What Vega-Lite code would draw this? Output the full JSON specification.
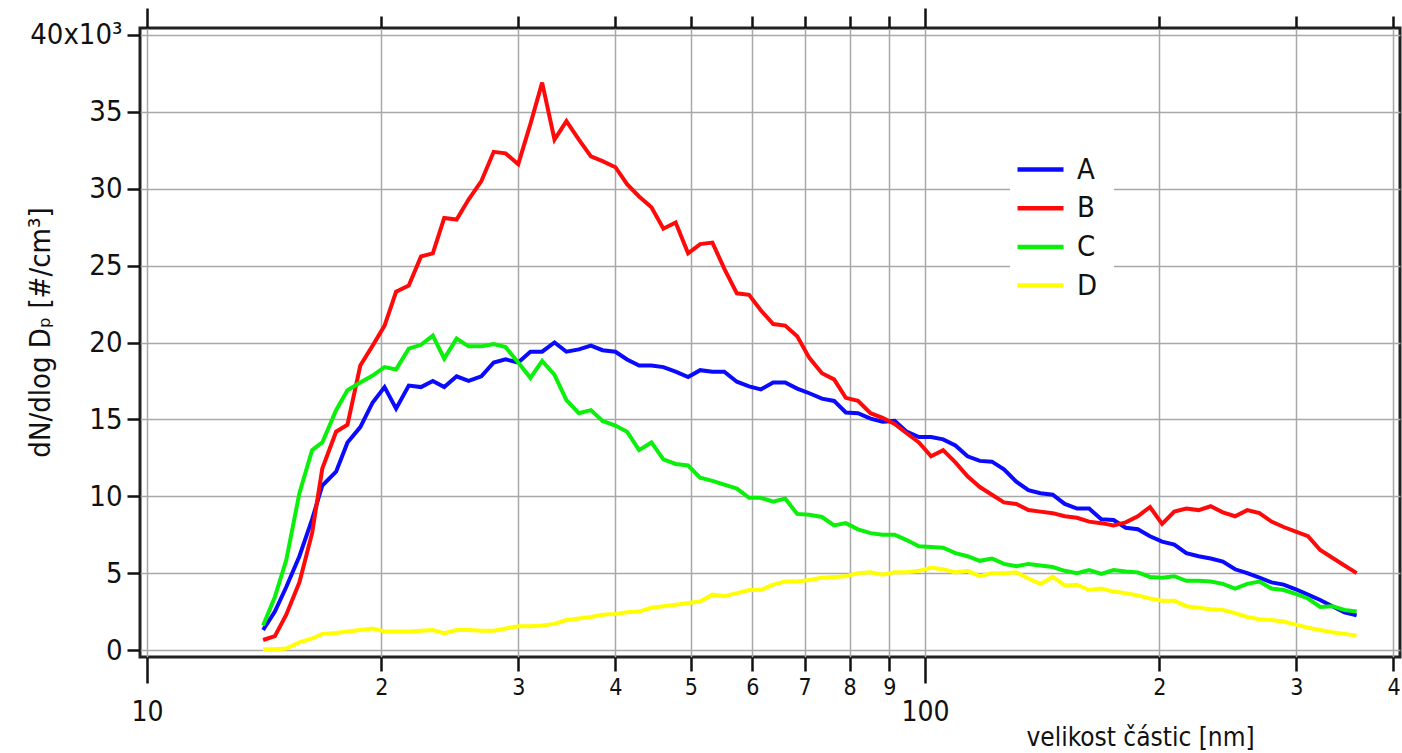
{
  "$schema": "https://vega.github.io/schema/vega-lite/v6.json",
  "autosize": {"type": "none"},
  "padding": {"left": 140, "top": 28, "right": 2, "bottom": 96},
  "width": 1260,
  "height": 629,
  "background": "white",
  "config": {
    "view": {"stroke": "#222", "strokeWidth": 3},
    "font": "Liberation Sans Narrow, DejaVu Sans Condensed, Liberation Sans"
  },
  "data": {"values": [
    {"d":14.1,"s":"A","v":1300},{"d":14.6,"s":"A","v":2500},{"d":15.1,"s":"A","v":4100},{"d":15.7,"s":"A","v":6100},{"d":16.3,"s":"A","v":8500},{"d":16.8,"s":"A","v":10700},{"d":17.5,"s":"A","v":11600},{"d":18.1,"s":"A","v":13500},{"d":18.8,"s":"A","v":14500},{"d":19.5,"s":"A","v":16100},
    {"d":20.2,"s":"A","v":17100},{"d":20.9,"s":"A","v":15700},{"d":21.7,"s":"A","v":17200},{"d":22.5,"s":"A","v":17100},{"d":23.3,"s":"A","v":17500},{"d":24.1,"s":"A","v":17100},{"d":25.0,"s":"A","v":17800},{"d":25.9,"s":"A","v":17500},{"d":26.9,"s":"A","v":17800},{"d":27.9,"s":"A","v":18700},
    {"d":28.9,"s":"A","v":18900},{"d":30.0,"s":"A","v":18700},{"d":31.1,"s":"A","v":19400},{"d":32.2,"s":"A","v":19400},{"d":33.4,"s":"A","v":20000},{"d":34.6,"s":"A","v":19400},{"d":35.9,"s":"A","v":19550},{"d":37.2,"s":"A","v":19800},{"d":38.5,"s":"A","v":19500},{"d":40.0,"s":"A","v":19400},
    {"d":41.4,"s":"A","v":18900},{"d":42.9,"s":"A","v":18500},{"d":44.5,"s":"A","v":18500},{"d":46.1,"s":"A","v":18400},{"d":47.8,"s":"A","v":18100},{"d":49.6,"s":"A","v":17750},{"d":51.4,"s":"A","v":18200},{"d":53.3,"s":"A","v":18100},{"d":55.2,"s":"A","v":18100},{"d":57.3,"s":"A","v":17450},
    {"d":59.4,"s":"A","v":17150},{"d":61.5,"s":"A","v":16950},{"d":63.8,"s":"A","v":17400},{"d":66.1,"s":"A","v":17400},{"d":68.5,"s":"A","v":17000},{"d":71.0,"s":"A","v":16700},{"d":73.7,"s":"A","v":16350},{"d":76.4,"s":"A","v":16200},{"d":79.1,"s":"A","v":15450},{"d":82.0,"s":"A","v":15400},
    {"d":85.1,"s":"A","v":15050},{"d":88.2,"s":"A","v":14850},{"d":91.4,"s":"A","v":14900},{"d":94.7,"s":"A","v":14200},{"d":98.2,"s":"A","v":13850},{"d":101.8,"s":"A","v":13850},{"d":105.5,"s":"A","v":13700},{"d":109.4,"s":"A","v":13300},{"d":113.4,"s":"A","v":12600},{"d":117.6,"s":"A","v":12300},
    {"d":121.9,"s":"A","v":12250},{"d":126.3,"s":"A","v":11750},{"d":131.0,"s":"A","v":10950},{"d":135.8,"s":"A","v":10400},{"d":140.7,"s":"A","v":10200},{"d":145.9,"s":"A","v":10100},{"d":151.2,"s":"A","v":9500},{"d":156.8,"s":"A","v":9200},{"d":162.5,"s":"A","v":9200},{"d":168.5,"s":"A","v":8500},
    {"d":174.7,"s":"A","v":8450},{"d":181.1,"s":"A","v":7950},{"d":187.7,"s":"A","v":7850},{"d":194.6,"s":"A","v":7400},{"d":201.7,"s":"A","v":7050},{"d":209.1,"s":"A","v":6850},{"d":216.7,"s":"A","v":6300},{"d":224.7,"s":"A","v":6100},{"d":232.9,"s":"A","v":5950},{"d":241.4,"s":"A","v":5750},
    {"d":250.3,"s":"A","v":5250},{"d":259.5,"s":"A","v":5000},{"d":269.0,"s":"A","v":4700},{"d":278.8,"s":"A","v":4400},{"d":289.0,"s":"A","v":4250},{"d":299.6,"s":"A","v":3950},{"d":310.6,"s":"A","v":3600},{"d":322.0,"s":"A","v":3250},{"d":333.8,"s":"A","v":2850},{"d":346.0,"s":"A","v":2450},{"d":358.7,"s":"A","v":2250},

    {"d":14.1,"s":"B","v":650},{"d":14.6,"s":"B","v":900},{"d":15.1,"s":"B","v":2300},{"d":15.7,"s":"B","v":4400},{"d":16.3,"s":"B","v":7600},{"d":16.8,"s":"B","v":11800},{"d":17.5,"s":"B","v":14200},{"d":18.1,"s":"B","v":14650},{"d":18.8,"s":"B","v":18500},{"d":19.5,"s":"B","v":19800},
    {"d":20.2,"s":"B","v":21100},{"d":20.9,"s":"B","v":23300},{"d":21.7,"s":"B","v":23700},{"d":22.5,"s":"B","v":25600},{"d":23.3,"s":"B","v":25800},{"d":24.1,"s":"B","v":28100},{"d":25.0,"s":"B","v":28000},{"d":25.9,"s":"B","v":29300},{"d":26.9,"s":"B","v":30500},{"d":27.9,"s":"B","v":32400},
    {"d":28.9,"s":"B","v":32300},{"d":30.0,"s":"B","v":31600},{"d":31.1,"s":"B","v":34200},{"d":32.2,"s":"B","v":36900},{"d":33.4,"s":"B","v":33200},{"d":34.6,"s":"B","v":34400},{"d":35.9,"s":"B","v":33200},{"d":37.2,"s":"B","v":32100},{"d":38.5,"s":"B","v":31800},{"d":40.0,"s":"B","v":31400},
    {"d":41.4,"s":"B","v":30300},{"d":42.9,"s":"B","v":29500},{"d":44.5,"s":"B","v":28800},{"d":46.1,"s":"B","v":27400},{"d":47.8,"s":"B","v":27800},{"d":49.6,"s":"B","v":25800},{"d":51.4,"s":"B","v":26400},{"d":53.3,"s":"B","v":26500},{"d":55.2,"s":"B","v":24800},{"d":57.3,"s":"B","v":23200},
    {"d":59.4,"s":"B","v":23100},{"d":61.5,"s":"B","v":22100},{"d":63.8,"s":"B","v":21200},{"d":66.1,"s":"B","v":21100},{"d":68.5,"s":"B","v":20400},{"d":71.0,"s":"B","v":19000},{"d":73.7,"s":"B","v":18000},{"d":76.4,"s":"B","v":17600},{"d":79.1,"s":"B","v":16400},{"d":82.0,"s":"B","v":16200},
    {"d":85.1,"s":"B","v":15400},{"d":88.2,"s":"B","v":15100},{"d":91.4,"s":"B","v":14700},{"d":94.7,"s":"B","v":14100},{"d":98.2,"s":"B","v":13500},{"d":101.8,"s":"B","v":12600},{"d":105.5,"s":"B","v":13000},{"d":109.4,"s":"B","v":12200},{"d":113.4,"s":"B","v":11300},{"d":117.6,"s":"B","v":10600},
    {"d":121.9,"s":"B","v":10100},{"d":126.3,"s":"B","v":9600},{"d":131.0,"s":"B","v":9500},{"d":135.8,"s":"B","v":9100},{"d":140.7,"s":"B","v":9000},{"d":145.9,"s":"B","v":8900},{"d":151.2,"s":"B","v":8700},{"d":156.8,"s":"B","v":8600},{"d":162.5,"s":"B","v":8350},{"d":168.5,"s":"B","v":8250},
    {"d":174.7,"s":"B","v":8100},{"d":181.1,"s":"B","v":8300},{"d":187.7,"s":"B","v":8700},{"d":194.6,"s":"B","v":9300},{"d":201.7,"s":"B","v":8200},{"d":209.1,"s":"B","v":9000},{"d":216.7,"s":"B","v":9200},{"d":224.7,"s":"B","v":9100},{"d":232.9,"s":"B","v":9350},{"d":241.4,"s":"B","v":8950},
    {"d":250.3,"s":"B","v":8700},{"d":259.5,"s":"B","v":9100},{"d":269.0,"s":"B","v":8900},{"d":278.8,"s":"B","v":8350},{"d":289.0,"s":"B","v":8000},{"d":299.6,"s":"B","v":7700},{"d":310.6,"s":"B","v":7400},{"d":322.0,"s":"B","v":6500},{"d":333.8,"s":"B","v":6000},{"d":346.0,"s":"B","v":5500},{"d":358.7,"s":"B","v":5000},

    {"d":14.1,"s":"C","v":1600},{"d":14.6,"s":"C","v":3450},{"d":15.1,"s":"C","v":5850},{"d":15.7,"s":"C","v":10200},{"d":16.3,"s":"C","v":13000},{"d":16.8,"s":"C","v":13500},{"d":17.5,"s":"C","v":15600},{"d":18.1,"s":"C","v":16900},{"d":18.8,"s":"C","v":17400},{"d":19.5,"s":"C","v":17850},
    {"d":20.2,"s":"C","v":18400},{"d":20.9,"s":"C","v":18250},{"d":21.7,"s":"C","v":19600},{"d":22.5,"s":"C","v":19850},{"d":23.3,"s":"C","v":20450},{"d":24.1,"s":"C","v":18950},{"d":25.0,"s":"C","v":20250},{"d":25.9,"s":"C","v":19750},{"d":26.9,"s":"C","v":19750},{"d":27.9,"s":"C","v":19900},
    {"d":28.9,"s":"C","v":19700},{"d":30.0,"s":"C","v":18700},{"d":31.1,"s":"C","v":17700},{"d":32.2,"s":"C","v":18800},{"d":33.4,"s":"C","v":17900},{"d":34.6,"s":"C","v":16250},{"d":35.9,"s":"C","v":15400},{"d":37.2,"s":"C","v":15600},{"d":38.5,"s":"C","v":14900},{"d":40.0,"s":"C","v":14600},
    {"d":41.4,"s":"C","v":14200},{"d":42.9,"s":"C","v":13000},{"d":44.5,"s":"C","v":13500},{"d":46.1,"s":"C","v":12400},{"d":47.8,"s":"C","v":12100},{"d":49.6,"s":"C","v":12000},{"d":51.4,"s":"C","v":11200},{"d":53.3,"s":"C","v":11000},{"d":55.2,"s":"C","v":10750},{"d":57.3,"s":"C","v":10500},
    {"d":59.4,"s":"C","v":9900},{"d":61.5,"s":"C","v":9900},{"d":63.8,"s":"C","v":9650},{"d":66.1,"s":"C","v":9850},{"d":68.5,"s":"C","v":8850},{"d":71.0,"s":"C","v":8800},{"d":73.7,"s":"C","v":8650},{"d":76.4,"s":"C","v":8100},{"d":79.1,"s":"C","v":8250},{"d":82.0,"s":"C","v":7850},
    {"d":85.1,"s":"C","v":7600},{"d":88.2,"s":"C","v":7500},{"d":91.4,"s":"C","v":7500},{"d":94.7,"s":"C","v":7150},{"d":98.2,"s":"C","v":6750},{"d":101.8,"s":"C","v":6700},{"d":105.5,"s":"C","v":6650},{"d":109.4,"s":"C","v":6300},{"d":113.4,"s":"C","v":6100},{"d":117.6,"s":"C","v":5800},
    {"d":121.9,"s":"C","v":5950},{"d":126.3,"s":"C","v":5600},{"d":131.0,"s":"C","v":5450},{"d":135.8,"s":"C","v":5600},{"d":140.7,"s":"C","v":5500},{"d":145.9,"s":"C","v":5400},{"d":151.2,"s":"C","v":5150},{"d":156.8,"s":"C","v":5000},{"d":162.5,"s":"C","v":5200},{"d":168.5,"s":"C","v":4950},
    {"d":174.7,"s":"C","v":5200},{"d":181.1,"s":"C","v":5100},{"d":187.7,"s":"C","v":5050},{"d":194.6,"s":"C","v":4750},{"d":201.7,"s":"C","v":4700},{"d":209.1,"s":"C","v":4800},{"d":216.7,"s":"C","v":4500},{"d":224.7,"s":"C","v":4500},{"d":232.9,"s":"C","v":4450},{"d":241.4,"s":"C","v":4300},
    {"d":250.3,"s":"C","v":4000},{"d":259.5,"s":"C","v":4300},{"d":269.0,"s":"C","v":4450},{"d":278.8,"s":"C","v":4000},{"d":289.0,"s":"C","v":3900},{"d":299.6,"s":"C","v":3650},{"d":310.6,"s":"C","v":3350},{"d":322.0,"s":"C","v":2800},{"d":333.8,"s":"C","v":2850},{"d":346.0,"s":"C","v":2600},{"d":358.7,"s":"C","v":2500},

    {"d":14.1,"s":"D","v":50},{"d":14.6,"s":"D","v":50},{"d":15.1,"s":"D","v":100},{"d":15.7,"s":"D","v":500},{"d":16.3,"s":"D","v":750},{"d":16.8,"s":"D","v":1050},{"d":17.5,"s":"D","v":1100},{"d":18.1,"s":"D","v":1200},{"d":18.8,"s":"D","v":1300},{"d":19.5,"s":"D","v":1400},
    {"d":20.2,"s":"D","v":1200},{"d":20.9,"s":"D","v":1200},{"d":21.7,"s":"D","v":1200},{"d":22.5,"s":"D","v":1250},{"d":23.3,"s":"D","v":1300},{"d":24.1,"s":"D","v":1100},{"d":25.0,"s":"D","v":1300},{"d":25.9,"s":"D","v":1300},{"d":26.9,"s":"D","v":1250},{"d":27.9,"s":"D","v":1250},
    {"d":28.9,"s":"D","v":1400},{"d":30.0,"s":"D","v":1550},{"d":31.1,"s":"D","v":1550},{"d":32.2,"s":"D","v":1600},{"d":33.4,"s":"D","v":1700},{"d":34.6,"s":"D","v":1950},{"d":35.9,"s":"D","v":2050},{"d":37.2,"s":"D","v":2150},{"d":38.5,"s":"D","v":2300},{"d":40.0,"s":"D","v":2350},
    {"d":41.4,"s":"D","v":2450},{"d":42.9,"s":"D","v":2500},{"d":44.5,"s":"D","v":2750},{"d":46.1,"s":"D","v":2850},{"d":47.8,"s":"D","v":2950},{"d":49.6,"s":"D","v":3050},{"d":51.4,"s":"D","v":3150},{"d":53.3,"s":"D","v":3600},{"d":55.2,"s":"D","v":3500},{"d":57.3,"s":"D","v":3700},
    {"d":59.4,"s":"D","v":3900},{"d":61.5,"s":"D","v":3900},{"d":63.8,"s":"D","v":4250},{"d":66.1,"s":"D","v":4450},{"d":68.5,"s":"D","v":4450},{"d":71.0,"s":"D","v":4550},{"d":73.7,"s":"D","v":4700},{"d":76.4,"s":"D","v":4750},{"d":79.1,"s":"D","v":4800},{"d":82.0,"s":"D","v":5000},
    {"d":85.1,"s":"D","v":5050},{"d":88.2,"s":"D","v":4900},{"d":91.4,"s":"D","v":5050},{"d":94.7,"s":"D","v":5050},{"d":98.2,"s":"D","v":5150},{"d":101.8,"s":"D","v":5350},{"d":105.5,"s":"D","v":5250},{"d":109.4,"s":"D","v":5050},{"d":113.4,"s":"D","v":5150},{"d":117.6,"s":"D","v":4800},
    {"d":121.9,"s":"D","v":5000},{"d":126.3,"s":"D","v":5000},{"d":131.0,"s":"D","v":5050},{"d":135.8,"s":"D","v":4650},{"d":140.7,"s":"D","v":4300},{"d":145.9,"s":"D","v":4750},{"d":151.2,"s":"D","v":4200},{"d":156.8,"s":"D","v":4250},{"d":162.5,"s":"D","v":3900},{"d":168.5,"s":"D","v":4000},
    {"d":174.7,"s":"D","v":3800},{"d":181.1,"s":"D","v":3700},{"d":187.7,"s":"D","v":3550},{"d":194.6,"s":"D","v":3350},{"d":201.7,"s":"D","v":3200},{"d":209.1,"s":"D","v":3200},{"d":216.7,"s":"D","v":2850},{"d":224.7,"s":"D","v":2750},{"d":232.9,"s":"D","v":2650},{"d":241.4,"s":"D","v":2600},
    {"d":250.3,"s":"D","v":2400},{"d":259.5,"s":"D","v":2150},{"d":269.0,"s":"D","v":2000},{"d":278.8,"s":"D","v":1950},{"d":289.0,"s":"D","v":1850},{"d":299.6,"s":"D","v":1650},{"d":310.6,"s":"D","v":1450},{"d":322.0,"s":"D","v":1300},{"d":333.8,"s":"D","v":1150},{"d":346.0,"s":"D","v":1050},{"d":358.7,"s":"D","v":950}
  ]},
  "resolve": {"axis": {"x": "independent"}},
  "layer": [
    {
      "mark": {"type": "line", "strokeWidth": 4, "clip": true},
      "encoding": {
        "x": {
          "field": "d", "type": "quantitative",
          "scale": {"type": "log", "domain": [9.795, 407.8], "nice": false, "zero": false},
          "axis": {
            "orient": "bottom",
            "values": [10,20,30,40,50,60,70,80,90,100,200,300,400],
            "labelExpr": "datum.value == 10 || datum.value == 100 ? toString(datum.value) : substring(toString(datum.value), 0, 1)",
            "labelFontSize": {"condition": {"test": "datum.value == 10 || datum.value == 100", "value": 28}, "value": 23},
            "labelPadding": {"condition": {"test": "datum.value == 10 || datum.value == 100", "value": 15}, "value": 5},
            "labelColor": "#111",
            "labelFlush": false,
            "labelOverlap": false,
            "tickSize": {"condition": {"test": "datum.value == 10 || datum.value == 100", "value": 26}, "value": 14},
            "tickWidth": 2.5,
            "tickColor": "#111",
            "domain": false,
            "grid": true,
            "gridColor": "#a8a8a8",
            "gridWidth": 1.5,
            "title": "velikost částic [nm]",
            "titleFontSize": 26,
            "titleFontWeight": "normal",
            "titleColor": "#111",
            "titleX": 1000,
            "titleY": 80,
            "titleAlign": "center",
            "titleBaseline": "middle"
          }
        },
        "y": {
          "field": "v", "type": "quantitative",
          "scale": {"domain": [-455, 40455], "nice": false, "zero": false},
          "axis": {
            "values": [0,5000,10000,15000,20000,25000,30000,35000,40000],
            "labelExpr": "datum.value == 40000 ? '40x10³' : toString(datum.value / 1000)",
            "labelFontSize": 29,
            "labelColor": "#111",
            "labelPadding": 5,
            "labelFlush": false,
            "tickSize": 13,
            "tickWidth": 2.5,
            "tickColor": "#111",
            "domain": false,
            "grid": true,
            "gridColor": "#a8a8a8",
            "gridWidth": 1.5,
            "title": "dN/dlog Dₚ [#/cm³]",
            "titleFontSize": 29,
            "titleFontWeight": "normal",
            "titleColor": "#111",
            "titleX": -100,
            "titleY": 304,
            "titleAngle": -90,
            "titleAlign": "center",
            "titleBaseline": "middle"
          }
        },
        "color": {
          "field": "s", "type": "nominal",
          "scale": {"domain": ["A","B","C","D"], "range": ["#0a0aff","#ff0a0a","#0af00a","#ffff00"]},
          "legend": {
            "title": null,
            "orient": "none",
            "legendX": 870,
            "legendY": 111,
            "fillColor": "white",
            "padding": 16,
            "symbolType": "M-2,0H2",
            "symbolSize": 529,
            "symbolStrokeWidth": 4.5,
            "labelFontSize": 29,
            "labelColor": "#111",
            "labelOffset": 22,
            "rowPadding": 8.7
          }
        }
      }
    },
    {
      "mark": {"type": "point", "opacity": 0},
      "encoding": {
        "x": {
          "field": "d", "type": "quantitative",
          "axis": {
            "orient": "top",
            "values": [10,20,30,40,50,60,70,80,90,100,200,300,400],
            "labels": false,
            "grid": false,
            "domain": false,
            "title": null,
            "tickSize": {"condition": {"test": "datum.value == 10 || datum.value == 100", "value": 20}, "value": 12},
            "tickWidth": 2.5,
            "tickColor": "#111"
          }
        }
      }
    }
  ]
}
